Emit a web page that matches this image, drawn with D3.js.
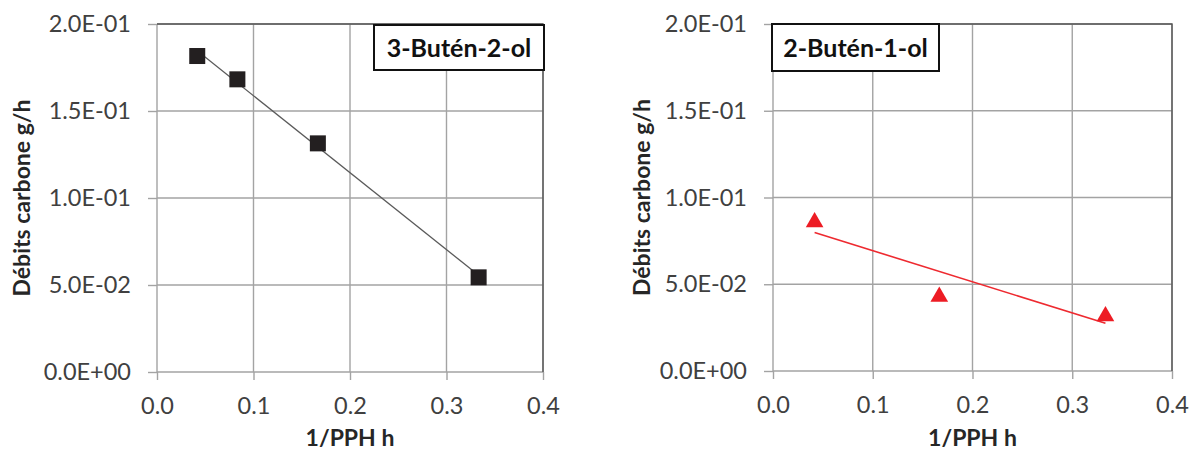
<!DOCTYPE html>
<html>
<head>
<meta charset="utf-8">
<script src="https://cdn.jsdelivr.net/npm/d3@7"></script>
<style>
  html, body { margin: 0; padding: 0; background: #fff; }
  svg { display: block; }
  text { font-family: Lato, "Open Sans", sans-serif; }
</style>
</head>
<body>
<svg id="chart" width="1192" height="450"></svg>
<script>
// ---- data ----
const xTicks = [0, 0.1, 0.2, 0.3, 0.4];
const xTickLabels = ["0.0", "0.1", "0.2", "0.3", "0.4"];
const yTicks = [0, 0.05, 0.1, 0.15, 0.2];
const yTickLabels = ["0.0E+00", "5.0E-02", "1.0E-01", "1.5E-01", "2.0E-01"];

const butenolA_x = [0.0417, 0.0833, 0.1667, 0.3333];
const butenolA_y = [0.1816, 0.1682, 0.1314, 0.0544];
const butenolB_x = [0.0417, 0.1667, 0.3333];
const butenolB_y = [0.0873, 0.0443, 0.0331];

const panelTitles = ["3-Butén-2-ol", "2-Butén-1-ol"];
const xTitle = "1/PPH h";
const yTitle = "Débits carbone g/h";

// ---- layout ----
const panels = [
  { xs: butenolA_x, ys: butenolA_y, title: panelTitles[0],
    left: 157, right: 543, top: 24, bottom: 372,
    box: [374, 25, 544, 70], yTitleX: 22,
    marker: "square", color: "#231f20", lineColor: "#5a5a5a", lineW: 1.3 },
  { xs: butenolB_x, ys: butenolB_y, title: panelTitles[1],
    left: 773, right: 1172, top: 24, bottom: 371,
    box: [772, 24, 939, 71], yTitleX: 642,
    marker: "triangle", color: "#ed1c24", lineColor: "#ee2a30", lineW: 1.6 }
];

const svg = d3.select("#chart");

function linReg(xs, ys) {
  const mx = d3.mean(xs), my = d3.mean(ys);
  let sxy = 0, sxx = 0;
  xs.forEach((x, i) => { sxy += (x - mx) * (ys[i] - my); sxx += (x - mx) * (x - mx); });
  const b = sxy / sxx, a = my - b * mx;
  return x => a + b * x;
}

panels.forEach(p => {
  const g = svg.append("g");
  const x = d3.scaleLinear().domain([0, 0.4]).range([p.left, p.right]);
  const y = d3.scaleLinear().domain([0, 0.2]).range([p.bottom, p.top]);

  // gridlines
  g.selectAll(".vg").data(xTicks).join("line")
    .attr("x1", d => x(d)).attr("x2", d => x(d))
    .attr("y1", p.top).attr("y2", p.bottom)
    .attr("stroke", "#a3a3a3").attr("stroke-width", 1.4);
  g.selectAll(".hg").data(yTicks).join("line")
    .attr("x1", p.left).attr("x2", p.right)
    .attr("y1", d => y(d)).attr("y2", d => y(d))
    .attr("stroke", "#a3a3a3").attr("stroke-width", 1.4);

  // plot border top & right (darker)
  g.append("path")
    .attr("d", `M${p.left},${p.top}H${p.right}V${p.bottom}`)
    .attr("fill", "none").attr("stroke", "#555").attr("stroke-width", 1.4);

  // axes
  const xAxis = d3.axisBottom(x).tickValues(xTicks)
    .tickFormat((d, i) => xTickLabels[i]).tickSizeInner(8).tickSizeOuter(0).tickPadding(17);
  const yAxis = d3.axisLeft(y).tickValues(yTicks)
    .tickFormat((d, i) => yTickLabels[i]).tickSizeInner(9).tickSizeOuter(0).tickPadding(17);

  const gx = g.append("g").attr("transform", `translate(0,${p.bottom})`).call(xAxis);
  const gy = g.append("g").attr("transform", `translate(${p.left},0)`).call(yAxis);
  [gx, gy].forEach(ax => {
    ax.select(".domain").remove();
    ax.selectAll(".tick line").attr("stroke", "#a3a3a3").attr("stroke-width", 1.4);
    ax.selectAll(".tick text").attr("fill", "#404040")
      .style("font-family", "Lato, sans-serif").style("font-size", "23.5px");
  });

  // axis titles
  g.append("text")
    .attr("x", (p.left + p.right) / 2).attr("y", 446)
    .attr("text-anchor", "middle")
    .attr("fill", "#262626")
    .style("font-weight", "bold").style("font-size", "23px")
    .text(xTitle);
  g.append("text")
    .attr("transform", `translate(${p.yTitleX},${(p.top + p.bottom) / 2}) rotate(-90)`)
    .attr("text-anchor", "middle").attr("dy", "0.35em")
    .attr("fill", "#262626")
    .style("font-weight", "bold").style("font-size", "23px")
    .text(yTitle);

  // trendline
  const f = linReg(p.xs, p.ys);
  const x0 = d3.min(p.xs), x1 = d3.max(p.xs);
  g.append("line")
    .attr("x1", x(x0)).attr("y1", y(f(x0)))
    .attr("x2", x(x1)).attr("y2", y(f(x1)))
    .attr("stroke", p.lineColor).attr("stroke-width", p.lineW);

  // markers
  const pts = p.xs.map((v, i) => [v, p.ys[i]]);
  if (p.marker === "square") {
    g.selectAll(".m").data(pts).join("rect")
      .attr("x", d => x(d[0]) - 8).attr("y", d => y(d[1]) - 8)
      .attr("width", 16).attr("height", 16)
      .attr("fill", p.color);
  } else {
    const size = 135;
    const side = Math.sqrt(size * 4 / Math.sqrt(3));
    const h = side * Math.sqrt(3) / 2;
    const sym = d3.symbol().type(d3.symbolTriangle).size(size);
    g.selectAll(".m").data(pts).join("path")
      .attr("transform", d => `translate(${x(d[0])},${y(d[1]) + h / 6})`)
      .attr("d", sym)
      .attr("fill", p.color);
  }

  // title box
  const [bx0, by0, bx1, by1] = p.box;
  g.append("rect")
    .attr("x", bx0).attr("y", by0).attr("width", bx1 - bx0).attr("height", by1 - by0)
    .attr("fill", "#fff").attr("stroke", "#111").attr("stroke-width", 2);
  g.append("text")
    .attr("x", (bx0 + bx1) / 2).attr("y", (by0 + by1) / 2)
    .attr("dy", "0.36em")
    .attr("text-anchor", "middle")
    .attr("fill", "#111")
    .style("font-weight", "bold").style("font-size", "25px")
    .text(p.title);
});
</script>
</body>
</html>
